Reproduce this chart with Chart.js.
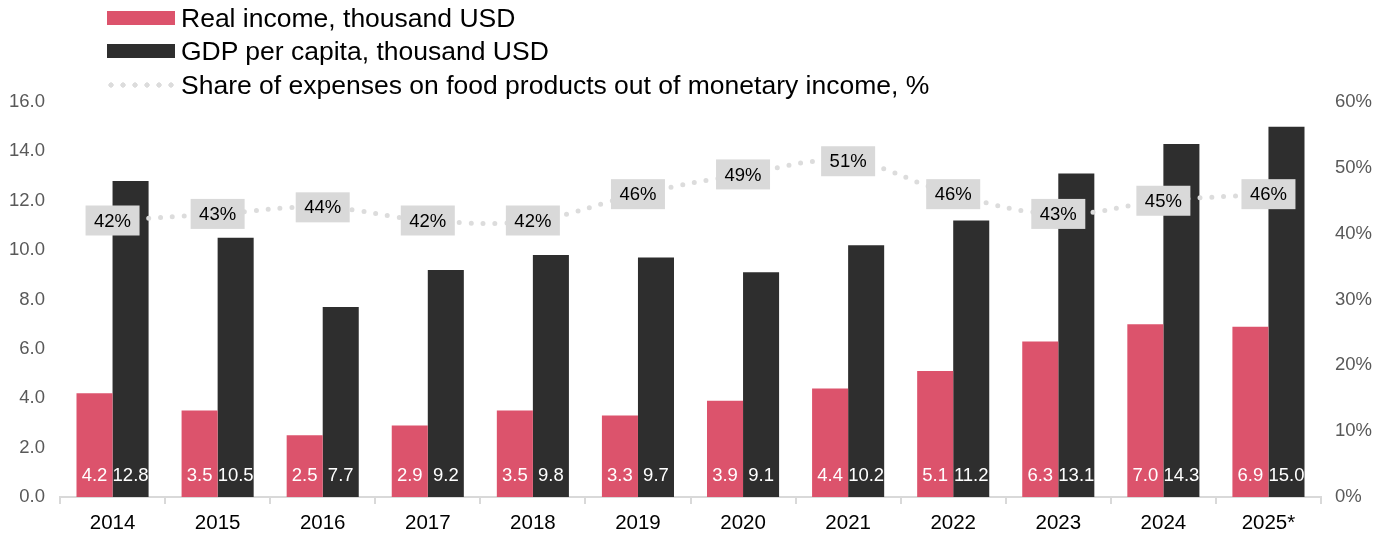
<!DOCTYPE html>
<html>
<head>
<meta charset="utf-8">
<script src="https://cdn.jsdelivr.net/npm/chart.js@4/dist/chart.umd.min.js"></script>
<style>
    html, body { margin: 0; padding: 0; background: #fff; }
    .wrap { position: relative; width: 1386px; height: 536px; font-family: "Liberation Sans", Arial, sans-serif; }
    canvas { position: absolute; left: 0; top: 0; }
    .legend { position: absolute; left: 105px; top: 0; }
    .legend-row { position: absolute; left: 0; height: 32px; display: flex; align-items: center; white-space: nowrap; font-size: 26.5px; color: #000; }
    .swatch { width: 68px; height: 14px; margin-left: 2px; margin-right: 6px; }
    .dots { width: 70px; height: 6px; margin-right: 6px;
        background: radial-gradient(circle, #dcdcdc 2.4px, transparent 2.9px) 0 0 / 12px 6px repeat-x; }
</style>
</head>
<body>
<div class="wrap">
    <canvas id="chart" width="1386" height="536"></canvas>
    <div class="legend">
        <div class="legend-row" style="top:2px"><div class="swatch" style="background:#dc536c"></div>Real income, thousand USD</div>
        <div class="legend-row" style="top:35px"><div class="swatch" style="background:#2e2e2e"></div>GDP per capita, thousand USD</div>
        <div class="legend-row" style="top:69px"><div class="dots"></div>Share of expenses on food products out of monetary income, %</div>
    </div>
</div>
<script>
// Годы и ряды
const years = ['2014', '2015', '2016', '2017', '2018', '2019', '2020', '2021', '2022', '2023', '2024', '2025*'];
const realIncome = [4.2, 3.5, 2.5, 2.9, 3.5, 3.3, 3.9, 4.4, 5.1, 6.3, 7.0, 6.9];
const gdpPerCapita = [12.8, 10.5, 7.7, 9.2, 9.8, 9.7, 9.1, 10.2, 11.2, 13.1, 14.3, 15.0];
const foodShare = [42, 43, 44, 42, 42, 46, 49, 51, 46, 43, 45, 46];

const FONT = '"Liberation Sans", Arial, sans-serif';

// Подписи значений: белые внутри столбцов, серые плашки на линии
const valueLabels = {
    id: 'valueLabels',
    afterDatasetsDraw(chart) {
        const ctx = chart.ctx;
        const yScale = chart.scales.y;
        const base = yScale.getPixelForValue(0);
        ctx.save();
        ctx.textAlign = 'center';
        ctx.textBaseline = 'middle';

        chart.data.datasets.forEach((ds, i) => {
            const meta = chart.getDatasetMeta(i);
            if (ds.type === 'bar') {
                ctx.font = '18.5px ' + FONT;
                ctx.fillStyle = '#ffffff';
                meta.data.forEach((el, j) => {
                    ctx.fillText(ds.data[j].toFixed(1), el.x, base - 21);
                });
            } else {
                meta.data.forEach((el, j) => {
                    const w = 54, h = 30;
                    ctx.fillStyle = '#d9d9d9';
                    ctx.fillRect(el.x - w / 2, el.y - h / 2, w, h);
                    ctx.font = '18.5px ' + FONT;
                    ctx.fillStyle = '#000000';
                    ctx.fillText(ds.data[j] + '%', el.x, el.y + 1);
                });
            }
        });
        ctx.restore();
    }
};

new Chart(document.getElementById('chart').getContext('2d'), {
    data: {
        labels: years,
        datasets: [
            {
                type: 'line',
                label: 'Share of expenses on food products out of monetary income, %',
                data: foodShare,
                yAxisID: 'y1',
                borderColor: '#dcdcdc',
                borderWidth: 5,
                borderDash: [0, 12],
                borderCapStyle: 'round',
                tension: 0.4,
                pointRadius: 0,
                order: 0
            },
            {
                type: 'bar',
                label: 'Real income, thousand USD',
                data: realIncome,
                yAxisID: 'y',
                backgroundColor: '#dc536c',
                categoryPercentage: 0.686,
                barPercentage: 1,
                order: 1
            },
            {
                type: 'bar',
                label: 'GDP per capita, thousand USD',
                data: gdpPerCapita,
                yAxisID: 'y',
                backgroundColor: '#2e2e2e',
                categoryPercentage: 0.686,
                barPercentage: 1,
                order: 1
            }
        ]
    },
    options: {
        responsive: false,
        animation: false,
        layout: { padding: { top: 102, left: 0, right: 0, bottom: 0 } },
        plugins: {
            legend: { display: false },
            tooltip: { enabled: false }
        },
        scales: {
            x: {
                grid: {
                    display: true,
                    drawOnChartArea: false,
                    offset: true,
                    tickLength: 7,
                    color: '#d9d9d9',
                    lineWidth: 2
                },
                border: { display: true, color: '#d9d9d9', width: 2 },
                ticks: { color: '#000', font: { size: 20.5, family: FONT }, padding: 7, maxRotation: 0 },
                afterFit(scale) { scale.height = 39; }
            },
            y: {
                position: 'left',
                min: 0,
                max: 16,
                grid: { display: false },
                border: { display: false },
                ticks: {
                    stepSize: 2,
                    color: '#595959',
                    font: { size: 18.5, family: FONT },
                    padding: 7,
                    callback: v => v.toFixed(1)
                },
                afterFit(scale) { scale.width = 60; }
            },
            y1: {
                position: 'right',
                min: 0,
                max: 60,
                grid: { display: false },
                border: { display: false },
                ticks: {
                    stepSize: 10,
                    color: '#595959',
                    font: { size: 18.5, family: FONT },
                    padding: 6,
                    callback: v => v + '%'
                },
                afterFit(scale) { scale.width = 65; }
            }
        }
    },
    plugins: [valueLabels]
});
</script>
</body>
</html>
